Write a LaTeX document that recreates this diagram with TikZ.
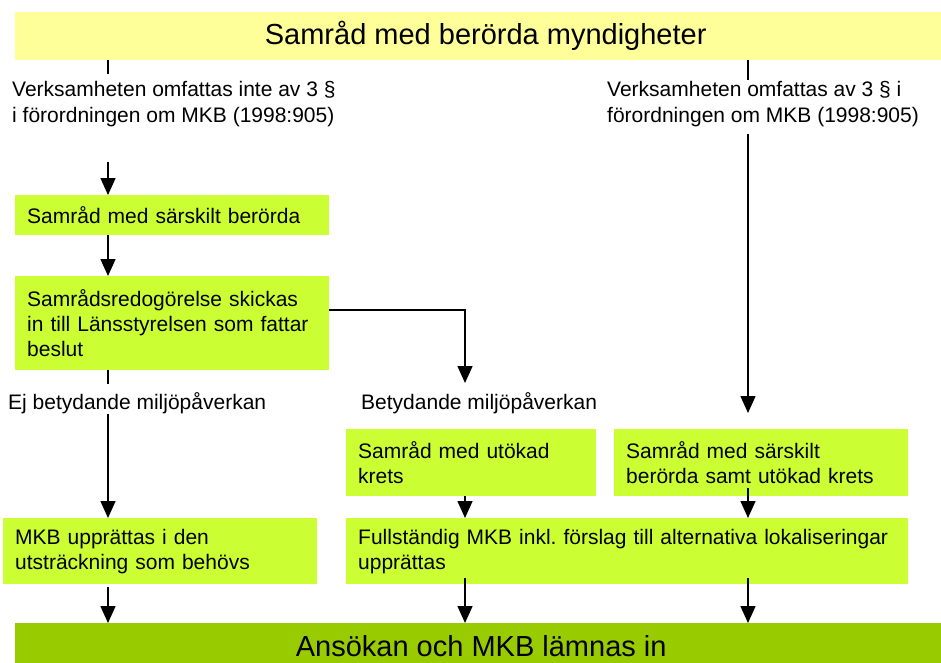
\documentclass[tikz,border=0pt]{standalone}
\usepackage{fontspec}
\setmainfont{Liberation Sans}
\usetikzlibrary{arrows.meta}
\frenchspacing

\begin{document}
\begin{tikzpicture}[x=1pt,y=1pt,yscale=-1,
  gbox/.style={fill={rgb, 255:red, 204; green, 255; blue, 51 }, anchor=north west, inner xsep=12pt, inner ysep=0pt, align=left, font=\fontsize{21}{25}\selectfont},
  lbl/.style={anchor=west, inner sep=0pt, align=left, font=\fontsize{21}{26}\selectfont},
  big/.style={anchor=north west, inner sep=0pt, font=\fontsize{29}{34}\selectfont},
  tick/.style={line width=1.5pt},
  arr/.style={line width=1.5pt, -{Triangle[width=15pt,length=17pt]}}]
\useasboundingbox (0,0) rectangle (941,662);

%Shape: Rectangle
\node [big, fill={rgb, 255:red, 255; green, 255; blue, 153 }, minimum width=941pt, minimum height=48pt] (top) at (15,12) {Samråd med berörda myndigheter};
%Shape: Rectangle
\node [gbox, text width=290pt, minimum height=40pt] (b1) at (15,195) {Samråd med särskilt berörda};
%Shape: Rectangle
\node [gbox, text width=290pt, minimum height=94pt] (b2) at (15,276) {Samrådsredogörelse skickas\\in till Länsstyrelsen som fattar\\beslut};
%Shape: Rectangle
\node [gbox, text width=226pt, minimum height=67pt] (b3) at (346,429) {Samråd med utökad\\krets};
%Shape: Rectangle
\node [gbox, text width=270pt, minimum height=67pt] (b4) at (614,429) {Samråd med särskilt\\berörda samt utökad krets};
%Shape: Rectangle
\node [gbox, text width=290pt, minimum height=66pt] (b5) at (3,518) {MKB upprättas i den\\utsträckning som behövs};
%Shape: Rectangle
\node [gbox, text width=538pt, minimum height=66pt] (b6) at (346,518) {Fullständig MKB inkl. förslag till alternativa lokaliseringar\\upprättas};
%Shape: Rectangle
\node [big, fill={rgb, 255:red, 153; green, 204; blue, 0 }, minimum width=932pt, minimum height=46pt] (bot) at (15,623) {Ansökan och MKB lämnas in};

% Text Node
\node [lbl] (n1) at (12,104) {Verksamheten omfattas inte av 3 §\\i förordningen om MKB (1998:905)};
% Text Node
\node [lbl] (n2) at (607,104) {Verksamheten omfattas av 3 § i\\förordningen om MKB (1998:905)};
% Text Node
\node [lbl] (n3) at (8,403) {Ej betydande miljöpåverkan};
% Text Node
\node [lbl] (n4) at (361,403) {Betydande miljöpåverkan};

\coordinate (t1) at (108,74);
\coordinate (a1) at (108,162);
\coordinate (t3) at (108,384);
\coordinate (a3) at (108,414);
\coordinate (a5) at (108,587);
\coordinate (c0) at (465,310);
\coordinate (c1) at (465,383);
\coordinate (a6) at (465,578);
\coordinate (t2) at (748,80);
\coordinate (r1) at (748,134);
\coordinate (r2) at (748,413);
\coordinate (a4) at (748,488);
\coordinate (a7) at (748,578);

%Straight Lines
\draw [tick] (t1 |- top.south) -- (t1);
\draw [arr] (a1) -- (a1 |- b1.north);
\draw [arr] (b1.south -| a1) -- (a1 |- b2.north);
\draw [tick] (b2.south -| t3) -- (t3);
\draw [arr] (a3) -- (a3 |- b5.north);
\draw [arr] (a5) -- (a5 |- bot.north);
%Straight Lines
\draw [arr] (b2.east |- c0) -- (c0) -- (c1);
\draw [arr] (b3.south -| c0) -- (c0 |- b6.north);
\draw [arr] (a6) -- (a6 |- bot.north);
%Straight Lines
\draw [tick] (t2 |- top.south) -- (t2);
\draw [arr] (r1) -- (r2);
\draw [arr] (a4) -- (a4 |- b6.north);
\draw [arr] (a7) -- (a7 |- bot.north);

\end{tikzpicture}
\end{document}
